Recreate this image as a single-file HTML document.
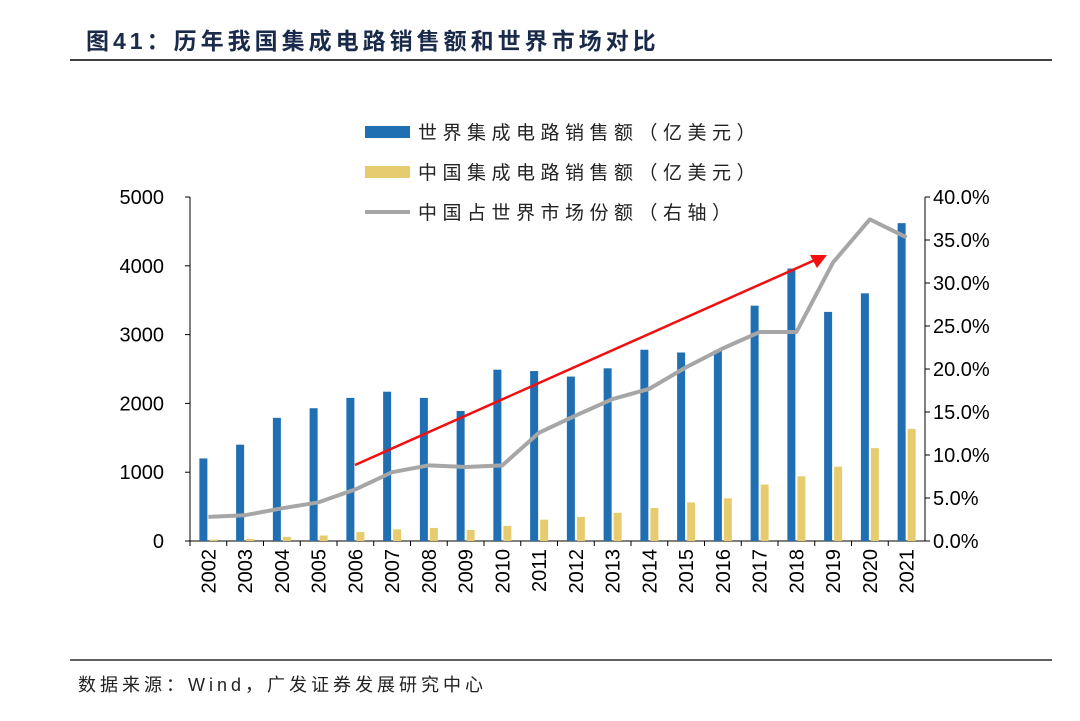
<!DOCTYPE html>
<html><head><meta charset="utf-8"><style>
body{margin:0;background:#fff;width:1080px;height:716px;overflow:hidden;font-family:"Liberation Sans","Noto Sans CJK SC",sans-serif;}
</style></head><body>
<svg width="1080" height="716" xmlns="http://www.w3.org/2000/svg" id="chart">
<text x="86" y="49" font-size="23" font-weight="bold" letter-spacing="4" fill="#1a2a4a" font-family="Liberation Sans,Noto Sans CJK SC,sans-serif">图41：历年我国集成电路销售额和世界市场对比</text>
<line x1="70" y1="60" x2="1052" y2="60" stroke="#000" stroke-width="1.5"/>
<line x1="70" y1="660" x2="1052" y2="660" stroke="#000" stroke-width="1.2"/>
<text x="78" y="691" font-size="18" letter-spacing="4" fill="#222">数据来源：Wind，广发证券发展研究中心</text>
<g id="plot"></g>
</svg>
<script>
const years=["2002","2003","2004","2005","2006","2007","2008","2009","2010","2011","2012","2013","2014","2015","2016","2017","2018","2019","2020","2021"];
const worldSales=[1200,1400,1790,1930,2080,2170,2080,1890,2490,2470,2390,2510,2780,2740,2770,3420,3960,3330,3600,4620];
const chinaSales=[20,30,60,80,130,170,190,160,220,310,350,410,480,560,620,820,940,1080,1350,1630];
const chinaShare=[2.8,3.0,3.8,4.5,6.0,8.0,8.8,8.6,8.8,12.6,14.6,16.5,17.7,20.2,22.4,24.3,24.3,32.4,37.4,35.3];
const leftTicks=[0,1000,2000,3000,4000,5000];
const rightTicks=[0,5,10,15,20,25,30,35,40];
const NS="http://www.w3.org/2000/svg";
const g=document.getElementById('plot');
const X0=190,X1=925,Y0=541,Y1=197;
const step=(X1-X0)/years.length;
const xc=i=>X0+step*(i+0.5);
const yL=v=>Y0-(v/5000)*(Y0-Y1);
const yR=v=>Y0-(v/40)*(Y0-Y1);
function mk(t,a){const e=document.createElementNS(NS,t);for(const k in a)e.setAttribute(k,a[k]);g.appendChild(e);return e;}
let e;
e=mk('line',{x1:X0,y1:Y1,x2:X0,y2:Y0,stroke:'#000','stroke-width':1});


e=mk('line',{x1:X1,y1:Y1,x2:X1,y2:Y0,stroke:'#000','stroke-width':1});


e=mk('line',{x1:X0,y1:Y0,x2:X1,y2:Y0,stroke:'#000','stroke-width':1});


leftTicks.forEach(v=>{
 mk('line',{x1:X0-5,y1:yL(v),x2:X0,y2:yL(v),stroke:'#000'});
 e=mk('text',{x:X0-26,y:yL(v)+7,'font-size':20,'text-anchor':'end',fill:'#000'});e.textContent=v;
 
 
});
rightTicks.forEach(v=>{
 mk('line',{x1:X1,y1:yR(v),x2:X1+5,y2:yR(v),stroke:'#000'});
 e=mk('text',{x:X1+8,y:yR(v)+7,'font-size':20,fill:'#000'});e.textContent=v.toFixed(1)+'%';
 
 
});
years.forEach((y,i)=>{
 mk('line',{x1:X0+step*i,y1:Y0,x2:X0+step*i,y2:Y0+5,stroke:'#000'});
 e=mk('rect',{x:xc(i)-9,y:yL(worldSales[i]),width:8,height:Y0-yL(worldSales[i]),fill:'#1f6fb2'});
 
 
 e=mk('rect',{x:xc(i)+1,y:yL(chinaSales[i]),width:8,height:Y0-yL(chinaSales[i]),fill:'#e6cc6e'});
 
 
 e=mk('text',{x:0,y:0,'font-size':20,fill:'#000','text-anchor':'end',transform:`translate(${xc(i)+7},${Y0+8}) rotate(-90)`});e.textContent=y;
 
 
});
e=mk('polyline',{points:chinaShare.map((v,i)=>xc(i)+','+yR(v)).join(' '),fill:'none',stroke:'#a6a6a6','stroke-width':4,'stroke-linejoin':'round'});


e=mk('line',{x1:355,y1:465,x2:815,y2:260,stroke:'#f01010','stroke-width':2.5});


mk('polygon',{points:'827,255 810,255 817,268',fill:'#f01010'});
const leg=[['rect','#1f6fb2','世界集成电路销售额（亿美元）',132],['rect','#e6cc6e','中国集成电路销售额（亿美元）',172],['line','#a6a6a6','中国占世界市场份额（右轴）',212]];
leg.forEach(l=>{
 if(l[0]=='rect') e=mk('rect',{x:365,y:l[3]-6,width:45,height:12,fill:l[1]});
 else e=mk('line',{x1:365,y1:l[3],x2:410,y2:l[3],stroke:l[1],'stroke-width':4});
 
 
 e=mk('text',{x:418,y:l[3]+7,'font-size':19,fill:'#222','letter-spacing':'5.5'});e.textContent=l[2];
 
 
});
</script>
</body></html>
